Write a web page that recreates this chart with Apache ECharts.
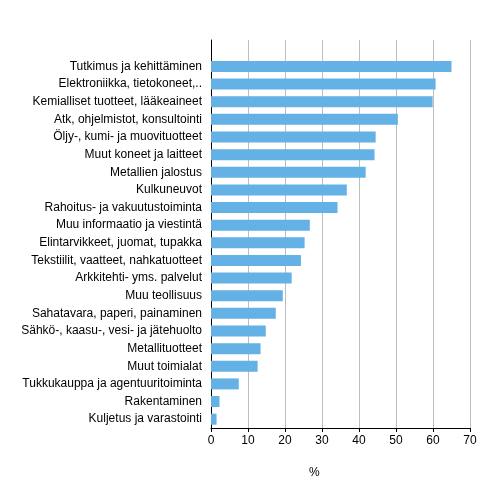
<!DOCTYPE html>
<html>
<head>
<meta charset="utf-8">
<script src="https://cdn.jsdelivr.net/npm/echarts@6/dist/echarts.min.js"></script>
<style>
  html, body { margin: 0; padding: 0; background: #fff; }
  #chart { width: 491px; height: 496px; }
</style>
</head>
<body>
<div id="chart"></div>
<script>
// categories top to bottom, the first empty one is the spare row above the bars
var categories = [
    '',
    'Tutkimus ja kehittäminen',
    'Elektroniikka, tietokoneet,..',
    'Kemialliset tuotteet, lääkeaineet',
    'Atk, ohjelmistot, konsultointi',
    'Öljy-, kumi- ja muovituotteet',
    'Muut koneet ja laitteet',
    'Metallien jalostus',
    'Kulkuneuvot',
    'Rahoitus- ja vakuutustoiminta',
    'Muu informaatio ja viestintä',
    'Elintarvikkeet, juomat, tupakka',
    'Tekstiilit, vaatteet, nahkatuotteet',
    'Arkkitehti- yms. palvelut',
    'Muu teollisuus',
    'Sahatavara, paperi, painaminen',
    'Sähkö-, kaasu-, vesi- ja jätehuolto',
    'Metallituotteet',
    'Muut toimialat',
    'Tukkukauppa ja agentuuritoiminta',
    'Rakentaminen',
    'Kuljetus ja varastointi'
];
var values = [
    null, 65.0, 60.7, 59.9, 50.5, 44.5, 44.2, 41.8, 36.7, 34.2, 26.7,
    25.3, 24.3, 21.8, 19.4, 17.5, 14.8, 13.4, 12.6, 7.5, 2.3, 1.5
];
var xTicks = { min: 0, max: 70, interval: 10 };

var chart = echarts.init(document.getElementById('chart'));
var option = {
    animation: false,
    title: {
        text: '%',
        left: 304,
        top: 462,
        textStyle: { fontFamily: 'Liberation Sans', fontSize: 12, fontWeight: 'normal', color: '#000' }
    },
    grid: { left: 211, right: 21, top: 40, bottom: 68, containLabel: false },
    xAxis: {
        type: 'value',
        min: xTicks.min,
        max: xTicks.max,
        interval: xTicks.interval,
        axisLine: { show: true, lineStyle: { color: '#000', width: 1 } },
        axisTick: { show: true, length: 4, lineStyle: { color: '#000' } },
        axisLabel: { fontFamily: 'Liberation Sans', fontSize: 12, color: '#000', margin: 7 },
        splitLine: { show: true, lineStyle: { color: '#bdbdbd', width: 1 } }
    },
    yAxis: {
        type: 'category',
        inverse: true,
        data: categories,
        axisLine: { show: true, lineStyle: { color: '#000', width: 1 } },
        axisTick: { show: false },
        axisLabel: { fontFamily: 'Liberation Sans', fontSize: 12, color: '#000', margin: 9, interval: 0 }
    },
    series: [{
        type: 'bar',
        data: values,
        barWidth: 11,
        itemStyle: { color: '#63b1e5' }
    }]
};
chart.setOption(option);
</script>
</body>
</html>
